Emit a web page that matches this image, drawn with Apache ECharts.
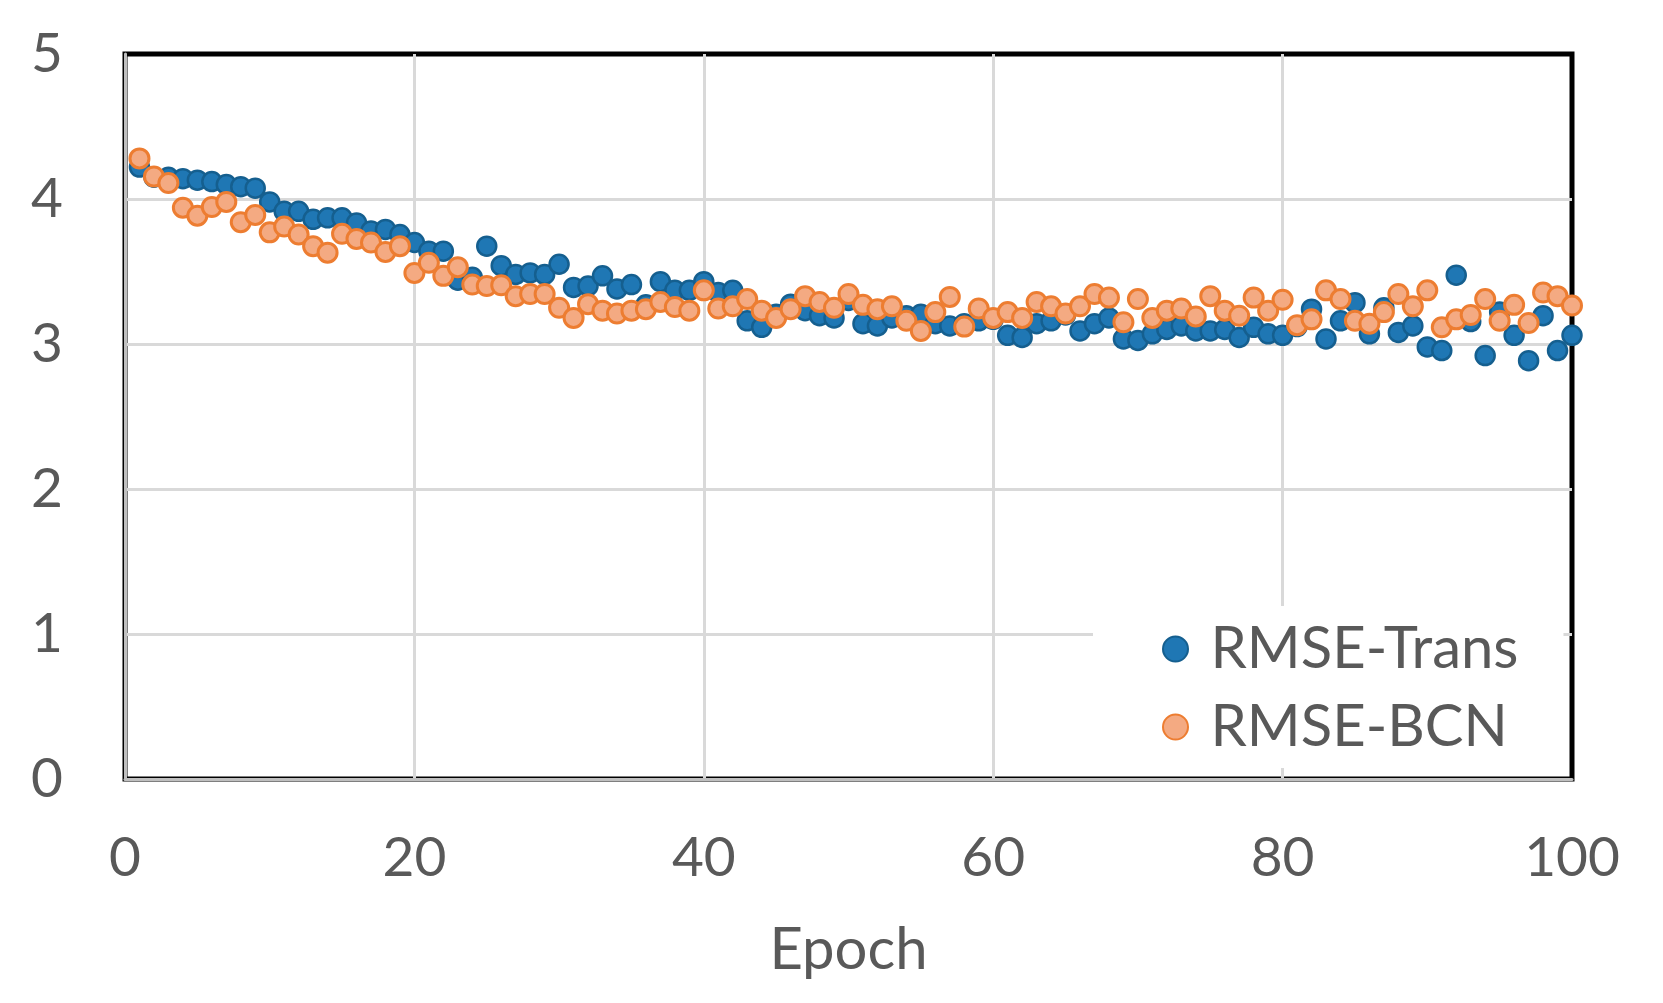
<!DOCTYPE html>
<html>
<head>
<meta charset="utf-8">
<title>RMSE per epoch</title>
<script src="https://cdn.jsdelivr.net/npm/echarts@6/dist/echarts.min.js"></script>
<style>
  html, body { margin: 0; padding: 0; background: #fff; }
  #chart { width: 1663px; height: 1003px; }
</style>
</head>
<body>
<div id="chart"></div>
<script>
// epochs 1..100
var epochs = [
  1, 2, 3, 4, 5, 6, 7, 8, 9, 10,
  11, 12, 13, 14, 15, 16, 17, 18, 19, 20,
  21, 22, 23, 24, 25, 26, 27, 28, 29, 30,
  31, 32, 33, 34, 35, 36, 37, 38, 39, 40,
  41, 42, 43, 44, 45, 46, 47, 48, 49, 50,
  51, 52, 53, 54, 55, 56, 57, 58, 59, 60,
  61, 62, 63, 64, 65, 66, 67, 68, 69, 70,
  71, 72, 73, 74, 75, 76, 77, 78, 79, 80,
  81, 82, 83, 84, 85, 86, 87, 88, 89, 90,
  91, 92, 93, 94, 95, 96, 97, 98, 99, 100
];

var rmseTrans = [
  4.22, 4.15, 4.15, 4.14, 4.13, 4.12, 4.10, 4.085, 4.075, 3.98,
  3.915, 3.915, 3.86, 3.87, 3.87, 3.835, 3.78, 3.79, 3.755, 3.70,
  3.64, 3.64, 3.44, 3.46, 3.675, 3.54, 3.48, 3.49, 3.48, 3.55,
  3.39, 3.40, 3.47, 3.38, 3.41, 3.27, 3.43, 3.37, 3.37, 3.43,
  3.355, 3.37, 3.16, 3.115, 3.205, 3.275, 3.23, 3.195, 3.18, 3.30,
  3.14, 3.125, 3.18, 3.195, 3.205, 3.14, 3.125, 3.14, 3.16, 3.17,
  3.06, 3.045, 3.14, 3.16, 3.20, 3.09, 3.14, 3.18, 3.035, 3.025,
  3.07, 3.10, 3.125, 3.09, 3.09, 3.10, 3.045, 3.115, 3.07, 3.06,
  3.12, 3.24, 3.035, 3.16, 3.285, 3.07, 3.25, 3.08, 3.125, 2.98,
  2.955, 3.475, 3.155, 2.92, 3.22, 3.06, 2.885, 3.195, 2.955, 3.06
];

var rmseBCN = [
  4.28, 4.155, 4.11, 3.94, 3.885, 3.945, 3.98, 3.84, 3.89, 3.77,
  3.81, 3.755, 3.675, 3.63, 3.76, 3.725, 3.70, 3.635, 3.675, 3.49,
  3.56, 3.47, 3.53, 3.41, 3.40, 3.405, 3.33, 3.345, 3.345, 3.25,
  3.18, 3.275, 3.23, 3.21, 3.23, 3.24, 3.29, 3.255, 3.23, 3.37,
  3.245, 3.26, 3.31, 3.23, 3.18, 3.24, 3.33, 3.29, 3.25, 3.345,
  3.27, 3.24, 3.26, 3.16, 3.09, 3.22, 3.325, 3.12, 3.245, 3.18,
  3.22, 3.18, 3.29, 3.26, 3.21, 3.26, 3.345, 3.32, 3.15, 3.31,
  3.18, 3.23, 3.245, 3.19, 3.33, 3.23, 3.195, 3.32, 3.23, 3.305,
  3.13, 3.17, 3.37, 3.31, 3.16, 3.14, 3.22, 3.345, 3.26, 3.37,
  3.115, 3.17, 3.20, 3.31, 3.16, 3.27, 3.145, 3.355, 3.33, 3.265
];

var seriesNames = ['RMSE-Trans', 'RMSE-BCN'];
var xTicks = [0, 20, 40, 60, 80, 100];
var yTicks = [0, 1, 2, 3, 4, 5];

// 拼成 [x, y] 点对
function toPairs(xs, ys) {
  var out = [];
  for (var i = 0; i < ys.length; i++) {
    out.push([xs[i], ys[i]]);
  }
  return out;
}

var textColor = '#595959';
var fontFamily = 'Lato';

var myChart = echarts.init(document.getElementById('chart'));

var option = {
  backgroundColor: '#fff',
  animation: false,
  grid: {
    left: 125,
    right: 91,
    top: 54,
    bottom: 224,
    show: true,
    borderColor: '#000',
    borderWidth: 5
  },
  legend: {
    data: seriesNames,
    orient: 'vertical',
    left: 1093,
    top: 606,
    padding: [14, 45, 12, 69],
    itemGap: 20,
    itemWidth: 60,
    itemHeight: 25,
    backgroundColor: '#fff',
    textStyle: {
      color: textColor,
      fontFamily: fontFamily,
      fontSize: 58
    }
  },
  xAxis: {
    type: 'value',
    min: xTicks[0],
    max: xTicks[xTicks.length - 1],
    interval: 20,
    offset: 4, // 外侧灰色阴影线
    name: 'Epoch',
    nameLocation: 'middle',
    nameGap: 138,
    nameTextStyle: {
      color: textColor,
      fontFamily: fontFamily,
      fontSize: 58
    },
    axisLine: {
      show: true,
      lineStyle: { color: '#bfbfbf', width: 3 }
    },
    axisTick: { show: false },
    axisLabel: {
      margin: 48,
      color: textColor,
      fontFamily: fontFamily,
      fontSize: 55
    },
    splitLine: {
      show: true,
      showMinLine: false,
      showMaxLine: false,
      lineStyle: { color: '#d9d9d9', width: 3 }
    }
  },
  yAxis: {
    type: 'value',
    min: yTicks[0],
    max: yTicks[yTicks.length - 1],
    interval: 1,
    offset: 4,
    axisLine: {
      show: true,
      lineStyle: { color: '#bfbfbf', width: 3 }
    },
    axisTick: { show: false },
    axisLabel: {
      margin: 58,
      color: textColor,
      fontFamily: fontFamily,
      fontSize: 55
    },
    splitLine: {
      show: true,
      showMinLine: false,
      showMaxLine: false,
      lineStyle: { color: '#d9d9d9', width: 3 }
    }
  },
  series: [
    {
      name: seriesNames[0],
      type: 'scatter',
      symbol: 'circle',
      symbolSize: 19,
      itemStyle: {
        color: '#1f77b4',
        borderColor: '#155f8f',
        borderWidth: 2.5,
        opacity: 1
      },
      data: toPairs(epochs, rmseTrans)
    },
    {
      name: seriesNames[1],
      type: 'scatter',
      symbol: 'circle',
      symbolSize: 19,
      itemStyle: {
        color: '#f4aa82',
        borderColor: '#ed7d31',
        borderWidth: 3,
        opacity: 1
      },
      data: toPairs(epochs, rmseBCN)
    }
  ]
};

myChart.setOption(option);
</script>
</body>
</html>
